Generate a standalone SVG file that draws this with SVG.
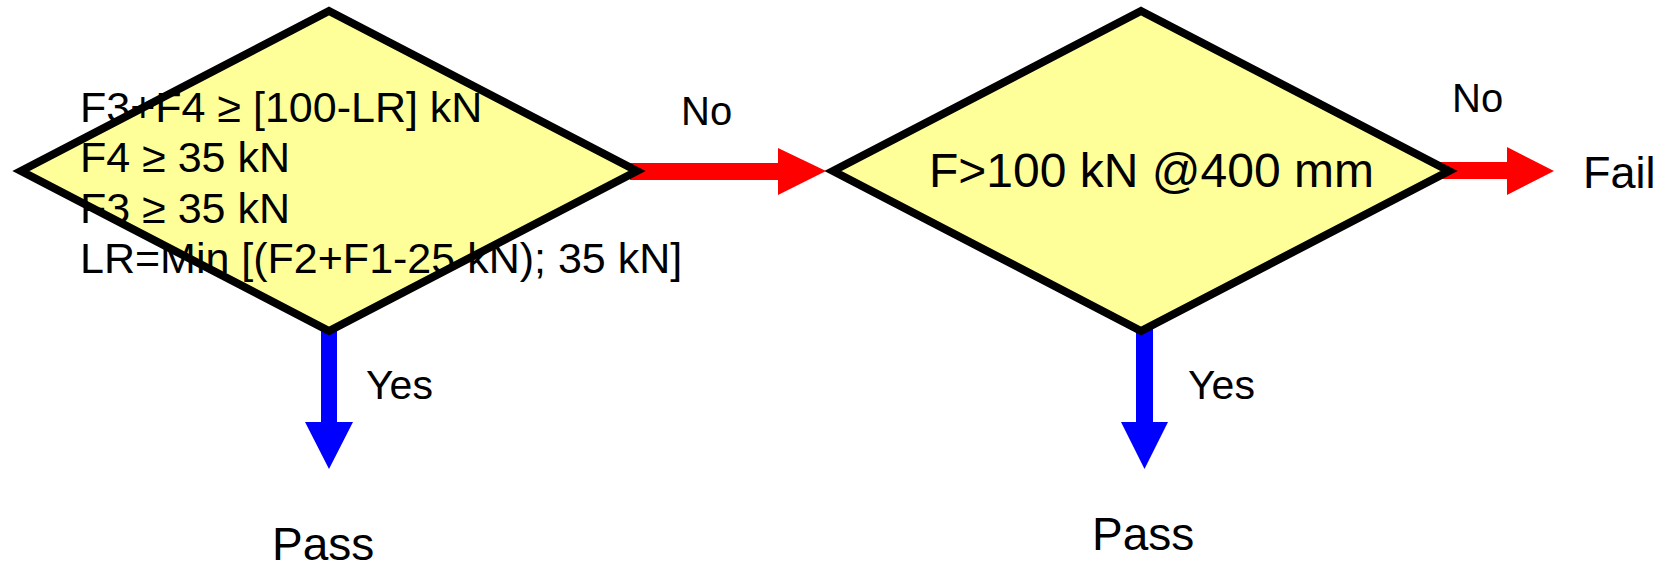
<svg xmlns="http://www.w3.org/2000/svg" width="1668" height="565" viewBox="0 0 1668 565">
  <style>
    text { font-family: "Liberation Sans", Arial, sans-serif; fill: #000; }
    .fill { fill: #FFFF99; stroke: none; }
    .edge { fill: none; stroke: #000; stroke-width: 8; stroke-linejoin: miter; stroke-miterlimit: 10; }
    .no { fill: #FF0000; }
    .yes { fill: #0000FF; }
  </style>

  <!-- connectors: block arrows -->
  <g id="connectors">
    <polygon class="no" points="630,163 778,163 778,148 826,171 778,195 778,180 630,180"/>
    <polygon class="no" points="1440,162 1507,162 1507,147 1554,171 1507,195 1507,179 1440,179"/>
    <polygon class="yes" points="321,320 337,320 337,422 353,422 329,469 305,422 321,422"/>
    <polygon class="yes" points="1136,320 1153,320 1153,422 1168,422 1144.5,469 1121,422 1136,422"/>
  </g>

  <!-- first decision -->
  <g id="decision-load">
    <polygon class="fill" points="329,11 637,171 329,331 21,171"/>
    <text font-size="43" x="80" y="122">F3+F4 ≥ [100-LR] kN</text>
    <text font-size="43" x="80" y="172">F4 ≥ 35 kN</text>
    <text font-size="43" x="80" y="223">F3 ≥ 35 kN</text>
    <text font-size="43" x="80" y="273">LR=Min [(F2+F1-25 kN); 35 kN]</text>
    <polygon class="edge" points="329,11 637,171 329,331 21,171"/>
  </g>

  <!-- second decision -->
  <g id="decision-force">
    <polygon class="fill" points="1141,11 1449,171 1141,331 833,171"/>
    <polygon class="edge" points="1141,11 1449,171 1141,331 833,171"/>
    <text font-size="48" x="929" y="187">F&gt;100 kN @400 mm</text>
  </g>

  <!-- branch labels -->
  <g id="labels">
    <text font-size="40" x="681" y="125">No</text>
    <text font-size="40" x="1452" y="112">No</text>
    <text font-size="41" x="366" y="399">Yes</text>
    <text font-size="41" x="1188" y="399">Yes</text>
  </g>

  <!-- outcomes -->
  <g id="pass-1"><text font-size="46" x="272" y="560">Pass</text></g>
  <g id="pass-2"><text font-size="46" x="1092" y="550">Pass</text></g>
  <g id="fail"><text font-size="45" x="1583" y="188">Fail</text></g>
</svg>
